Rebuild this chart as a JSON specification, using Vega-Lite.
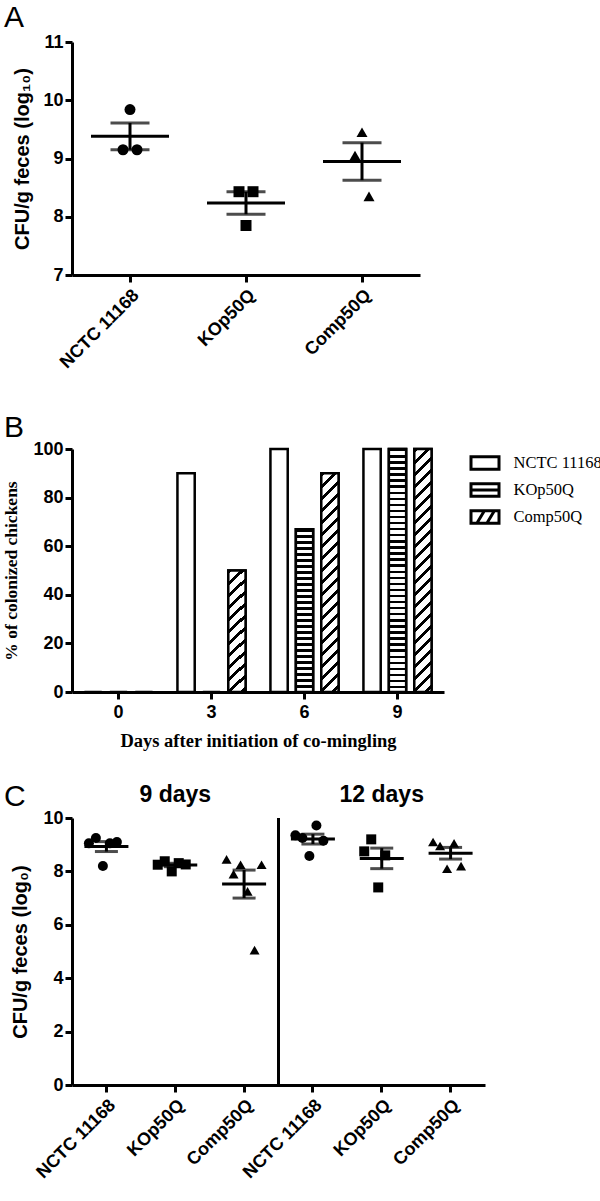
{
  "$schema": "https://vega.github.io/schema/vega-lite/v6.json",
  "background": "white",
  "padding": {"left": 2, "top": 3, "right": 5, "bottom": 5},
  "spacing": 40,
  "bounds": "flush",
  "resolve": {"scale": {"shape": "independent", "fill": "independent"}, "legend": {"shape": "independent", "fill": "independent"}},
  "config": {
    "view": {"stroke": null},
    "axis": {"domainColor": "black", "domainWidth": 3, "tickColor": "black", "tickWidth": 3, "tickSize": 7, "labelColor": "black", "labelFont": "Liberation Sans", "labelFontWeight": "bold", "labelFontSize": 18, "titleFont": "Liberation Sans", "titleFontWeight": "bold", "titleFontSize": 20, "titleColor": "black", "grid": false, "labelPadding": 2},
    "title": {"font": "Liberation Sans", "fontWeight": "normal", "fontSize": 30, "color": "black", "anchor": "start", "frame": "group", "baseline": "alphabetic"}
  },
  "vconcat": [
    {
      "width": 348, "height": 233,
      "title": {"text": "A", "dx": -68, "offset": 0},
      "data": {"values": [
        {"strain": "NCTC 11168", "bird": 1, "value": 9.15},
        {"strain": "NCTC 11168", "bird": 2, "value": 9.84},
        {"strain": "NCTC 11168", "bird": 3, "value": 9.15},
        {"strain": "KOp50Q", "bird": 1, "value": 8.43},
        {"strain": "KOp50Q", "bird": 2, "value": 7.85},
        {"strain": "KOp50Q", "bird": 3, "value": 8.43},
        {"strain": "Comp50Q", "bird": 1, "value": 9.05},
        {"strain": "Comp50Q", "bird": 2, "value": 9.45},
        {"strain": "Comp50Q", "bird": 3, "value": 8.35}
      ]},
      "encoding": {
        "x": {"field": "strain", "type": "nominal", "sort": ["NCTC 11168", "KOp50Q", "Comp50Q"], "scale": {"type": "band", "domain": ["NCTC 11168", "KOp50Q", "Comp50Q"], "paddingInner": 0, "paddingOuter": 0}, "axis": {"title": null, "labelAngle": -45, "labelAlign": "right", "labelBaseline": "top", "labelPadding": 4}}
      },
      "layer": [
        {"mark": {"type": "errorbar", "extent": "stderr", "ticks": true, "size": 39, "thickness": 3, "color": "black"},
         "encoding": {"y": {"field": "value", "type": "quantitative", "title": "CFU/g feces (log₁₀)", "scale": {"domain": [7, 11]}, "axis": {"values": [7, 8, 9, 10, 11], "format": "d", "titlePadding": 10}}}},
        {"mark": {"type": "tick", "size": 78, "thickness": 3, "color": "black", "opacity": 1},
         "encoding": {"y": {"aggregate": "mean", "field": "value", "type": "quantitative", "title": "CFU/g feces (log₁₀)"}}},
        {"mark": {"type": "point", "filled": true, "size": 121, "color": "black", "opacity": 1},
         "encoding": {
           "xOffset": {"field": "bird", "type": "quantitative", "scale": {"domain": [1, 3], "range": [51, 65]}},
           "y": {"field": "value", "type": "quantitative", "title": "CFU/g feces (log₁₀)"},
           "shape": {"field": "strain", "type": "nominal", "scale": {"domain": ["NCTC 11168", "KOp50Q", "Comp50Q"], "range": ["circle", "square", "triangle-up"]}, "legend": null}
         }}
      ]
    },
    {"width": 10, "height": 94, "data": {"values": []}, "mark": "point"},
    {
      "width": 372, "height": 243,
      "title": {"text": "B", "dx": -68, "offset": -3},
      "data": {"values": [
        {"day": 0, "strain": "NCTC 11168", "pct": 0},
        {"day": 0, "strain": "KOp50Q", "pct": 0},
        {"day": 0, "strain": "Comp50Q", "pct": 0},
        {"day": 3, "strain": "NCTC 11168", "pct": 90},
        {"day": 3, "strain": "KOp50Q", "pct": 0},
        {"day": 3, "strain": "Comp50Q", "pct": 50},
        {"day": 6, "strain": "NCTC 11168", "pct": 100},
        {"day": 6, "strain": "KOp50Q", "pct": 67},
        {"day": 6, "strain": "Comp50Q", "pct": 90},
        {"day": 9, "strain": "NCTC 11168", "pct": 100},
        {"day": 9, "strain": "KOp50Q", "pct": 100},
        {"day": 9, "strain": "Comp50Q", "pct": 100}
      ]},
      "encoding": {
        "x": {"field": "day", "type": "ordinal", "scale": {"paddingInner": 0.18, "paddingOuter": 0.09}, "axis": {"title": "Days after initiation of co-mingling", "titleFont": "Liberation Serif", "titleFontSize": 18.5, "labelAngle": 0, "labelPadding": 4, "titlePadding": 10}},
        "y": {"field": "pct", "type": "quantitative", "title": "% of colonized chickens", "scale": {"domain": [0, 100]}, "axis": {"values": [0, 20, 40, 60, 80, 100], "titleFont": "Liberation Serif", "titleFontSize": 17.5, "titlePadding": 12}}
      },
      "layer": [
        {"mark": {"type": "bar", "fill": "white", "stroke": "black", "strokeWidth": 2.5},
         "encoding": {"xOffset": {"field": "strain", "type": "nominal", "sort": ["NCTC 11168", "KOp50Q", "Comp50Q"], "scale": {"paddingInner": 0.32, "paddingOuter": 0.16}}}},
        {"transform": [{"filter": "datum.strain !== 'NCTC 11168' && datum.pct > 0"}],
         "mark": {"type": "bar", "stroke": "black", "strokeWidth": 2.5},
         "encoding": {
           "xOffset": {"field": "strain", "type": "nominal", "sort": ["NCTC 11168", "KOp50Q", "Comp50Q"]},
           "fill": {
           "condition": [
             {"test": "datum.strain === 'KOp50Q' && datum.pct >= 100", "value": {"gradient": "linear", "x1": 0, "y1": 0, "x2": 0, "y2": 1, "stops": [
               {"offset":0,"color":"#000"},{"offset":0.01,"color":"#000"},{"offset":0.01,"color":"#fff"},{"offset":0.025,"color":"#fff"},
               {"offset":0.025,"color":"#000"},{"offset":0.035,"color":"#000"},{"offset":0.035,"color":"#fff"},{"offset":0.05,"color":"#fff"},
               {"offset":0.05,"color":"#000"},{"offset":0.06,"color":"#000"},{"offset":0.06,"color":"#fff"},{"offset":0.075,"color":"#fff"},
               {"offset":0.075,"color":"#000"},{"offset":0.085,"color":"#000"},{"offset":0.085,"color":"#fff"},{"offset":0.1,"color":"#fff"},
               {"offset":0.1,"color":"#000"},{"offset":0.11,"color":"#000"},{"offset":0.11,"color":"#fff"},{"offset":0.125,"color":"#fff"},
               {"offset":0.125,"color":"#000"},{"offset":0.135,"color":"#000"},{"offset":0.135,"color":"#fff"},{"offset":0.15,"color":"#fff"},
               {"offset":0.15,"color":"#000"},{"offset":0.16,"color":"#000"},{"offset":0.16,"color":"#fff"},{"offset":0.175,"color":"#fff"},
               {"offset":0.175,"color":"#000"},{"offset":0.185,"color":"#000"},{"offset":0.185,"color":"#fff"},{"offset":0.2,"color":"#fff"},
               {"offset":0.2,"color":"#000"},{"offset":0.21,"color":"#000"},{"offset":0.21,"color":"#fff"},{"offset":0.225,"color":"#fff"},
               {"offset":0.225,"color":"#000"},{"offset":0.235,"color":"#000"},{"offset":0.235,"color":"#fff"},{"offset":0.25,"color":"#fff"},
               {"offset":0.25,"color":"#000"},{"offset":0.26,"color":"#000"},{"offset":0.26,"color":"#fff"},{"offset":0.275,"color":"#fff"},
               {"offset":0.275,"color":"#000"},{"offset":0.285,"color":"#000"},{"offset":0.285,"color":"#fff"},{"offset":0.3,"color":"#fff"},
               {"offset":0.3,"color":"#000"},{"offset":0.31,"color":"#000"},{"offset":0.31,"color":"#fff"},{"offset":0.325,"color":"#fff"},
               {"offset":0.325,"color":"#000"},{"offset":0.335,"color":"#000"},{"offset":0.335,"color":"#fff"},{"offset":0.35,"color":"#fff"},
               {"offset":0.35,"color":"#000"},{"offset":0.36,"color":"#000"},{"offset":0.36,"color":"#fff"},{"offset":0.375,"color":"#fff"},
               {"offset":0.375,"color":"#000"},{"offset":0.385,"color":"#000"},{"offset":0.385,"color":"#fff"},{"offset":0.4,"color":"#fff"},
               {"offset":0.4,"color":"#000"},{"offset":0.41,"color":"#000"},{"offset":0.41,"color":"#fff"},{"offset":0.425,"color":"#fff"},
               {"offset":0.425,"color":"#000"},{"offset":0.435,"color":"#000"},{"offset":0.435,"color":"#fff"},{"offset":0.45,"color":"#fff"},
               {"offset":0.45,"color":"#000"},{"offset":0.46,"color":"#000"},{"offset":0.46,"color":"#fff"},{"offset":0.475,"color":"#fff"},
               {"offset":0.475,"color":"#000"},{"offset":0.485,"color":"#000"},{"offset":0.485,"color":"#fff"},{"offset":0.5,"color":"#fff"},
               {"offset":0.5,"color":"#000"},{"offset":0.51,"color":"#000"},{"offset":0.51,"color":"#fff"},{"offset":0.525,"color":"#fff"},
               {"offset":0.525,"color":"#000"},{"offset":0.535,"color":"#000"},{"offset":0.535,"color":"#fff"},{"offset":0.55,"color":"#fff"},
               {"offset":0.55,"color":"#000"},{"offset":0.56,"color":"#000"},{"offset":0.56,"color":"#fff"},{"offset":0.575,"color":"#fff"},
               {"offset":0.575,"color":"#000"},{"offset":0.585,"color":"#000"},{"offset":0.585,"color":"#fff"},{"offset":0.6,"color":"#fff"},
               {"offset":0.6,"color":"#000"},{"offset":0.61,"color":"#000"},{"offset":0.61,"color":"#fff"},{"offset":0.625,"color":"#fff"},
               {"offset":0.625,"color":"#000"},{"offset":0.635,"color":"#000"},{"offset":0.635,"color":"#fff"},{"offset":0.65,"color":"#fff"},
               {"offset":0.65,"color":"#000"},{"offset":0.66,"color":"#000"},{"offset":0.66,"color":"#fff"},{"offset":0.675,"color":"#fff"},
               {"offset":0.675,"color":"#000"},{"offset":0.685,"color":"#000"},{"offset":0.685,"color":"#fff"},{"offset":0.7,"color":"#fff"},
               {"offset":0.7,"color":"#000"},{"offset":0.71,"color":"#000"},{"offset":0.71,"color":"#fff"},{"offset":0.725,"color":"#fff"},
               {"offset":0.725,"color":"#000"},{"offset":0.735,"color":"#000"},{"offset":0.735,"color":"#fff"},{"offset":0.75,"color":"#fff"},
               {"offset":0.75,"color":"#000"},{"offset":0.76,"color":"#000"},{"offset":0.76,"color":"#fff"},{"offset":0.775,"color":"#fff"},
               {"offset":0.775,"color":"#000"},{"offset":0.785,"color":"#000"},{"offset":0.785,"color":"#fff"},{"offset":0.8,"color":"#fff"},
               {"offset":0.8,"color":"#000"},{"offset":0.81,"color":"#000"},{"offset":0.81,"color":"#fff"},{"offset":0.825,"color":"#fff"},
               {"offset":0.825,"color":"#000"},{"offset":0.835,"color":"#000"},{"offset":0.835,"color":"#fff"},{"offset":0.85,"color":"#fff"},
               {"offset":0.85,"color":"#000"},{"offset":0.86,"color":"#000"},{"offset":0.86,"color":"#fff"},{"offset":0.875,"color":"#fff"},
               {"offset":0.875,"color":"#000"},{"offset":0.885,"color":"#000"},{"offset":0.885,"color":"#fff"},{"offset":0.9,"color":"#fff"},
               {"offset":0.9,"color":"#000"},{"offset":0.91,"color":"#000"},{"offset":0.91,"color":"#fff"},{"offset":0.925,"color":"#fff"},
               {"offset":0.925,"color":"#000"},{"offset":0.935,"color":"#000"},{"offset":0.935,"color":"#fff"},{"offset":0.95,"color":"#fff"},
               {"offset":0.95,"color":"#000"},{"offset":0.96,"color":"#000"},{"offset":0.96,"color":"#fff"},{"offset":0.975,"color":"#fff"},
               {"offset":0.975,"color":"#000"},{"offset":0.985,"color":"#000"},{"offset":0.985,"color":"#fff"},{"offset":1,"color":"#fff"}
             ]}},
             {"test": "datum.strain === 'KOp50Q'", "value": {"gradient": "linear", "x1": 0, "y1": 0, "x2": 0, "y2": 1.474, "stops": [
               {"offset":0,"color":"#000"},{"offset":0.01,"color":"#000"},{"offset":0.01,"color":"#fff"},{"offset":0.025,"color":"#fff"},
               {"offset":0.025,"color":"#000"},{"offset":0.035,"color":"#000"},{"offset":0.035,"color":"#fff"},{"offset":0.05,"color":"#fff"},
               {"offset":0.05,"color":"#000"},{"offset":0.06,"color":"#000"},{"offset":0.06,"color":"#fff"},{"offset":0.075,"color":"#fff"},
               {"offset":0.075,"color":"#000"},{"offset":0.085,"color":"#000"},{"offset":0.085,"color":"#fff"},{"offset":0.1,"color":"#fff"},
               {"offset":0.1,"color":"#000"},{"offset":0.11,"color":"#000"},{"offset":0.11,"color":"#fff"},{"offset":0.125,"color":"#fff"},
               {"offset":0.125,"color":"#000"},{"offset":0.135,"color":"#000"},{"offset":0.135,"color":"#fff"},{"offset":0.15,"color":"#fff"},
               {"offset":0.15,"color":"#000"},{"offset":0.16,"color":"#000"},{"offset":0.16,"color":"#fff"},{"offset":0.175,"color":"#fff"},
               {"offset":0.175,"color":"#000"},{"offset":0.185,"color":"#000"},{"offset":0.185,"color":"#fff"},{"offset":0.2,"color":"#fff"},
               {"offset":0.2,"color":"#000"},{"offset":0.21,"color":"#000"},{"offset":0.21,"color":"#fff"},{"offset":0.225,"color":"#fff"},
               {"offset":0.225,"color":"#000"},{"offset":0.235,"color":"#000"},{"offset":0.235,"color":"#fff"},{"offset":0.25,"color":"#fff"},
               {"offset":0.25,"color":"#000"},{"offset":0.26,"color":"#000"},{"offset":0.26,"color":"#fff"},{"offset":0.275,"color":"#fff"},
               {"offset":0.275,"color":"#000"},{"offset":0.285,"color":"#000"},{"offset":0.285,"color":"#fff"},{"offset":0.3,"color":"#fff"},
               {"offset":0.3,"color":"#000"},{"offset":0.31,"color":"#000"},{"offset":0.31,"color":"#fff"},{"offset":0.325,"color":"#fff"},
               {"offset":0.325,"color":"#000"},{"offset":0.335,"color":"#000"},{"offset":0.335,"color":"#fff"},{"offset":0.35,"color":"#fff"},
               {"offset":0.35,"color":"#000"},{"offset":0.36,"color":"#000"},{"offset":0.36,"color":"#fff"},{"offset":0.375,"color":"#fff"},
               {"offset":0.375,"color":"#000"},{"offset":0.385,"color":"#000"},{"offset":0.385,"color":"#fff"},{"offset":0.4,"color":"#fff"},
               {"offset":0.4,"color":"#000"},{"offset":0.41,"color":"#000"},{"offset":0.41,"color":"#fff"},{"offset":0.425,"color":"#fff"},
               {"offset":0.425,"color":"#000"},{"offset":0.435,"color":"#000"},{"offset":0.435,"color":"#fff"},{"offset":0.45,"color":"#fff"},
               {"offset":0.45,"color":"#000"},{"offset":0.46,"color":"#000"},{"offset":0.46,"color":"#fff"},{"offset":0.475,"color":"#fff"},
               {"offset":0.475,"color":"#000"},{"offset":0.485,"color":"#000"},{"offset":0.485,"color":"#fff"},{"offset":0.5,"color":"#fff"},
               {"offset":0.5,"color":"#000"},{"offset":0.51,"color":"#000"},{"offset":0.51,"color":"#fff"},{"offset":0.525,"color":"#fff"},
               {"offset":0.525,"color":"#000"},{"offset":0.535,"color":"#000"},{"offset":0.535,"color":"#fff"},{"offset":0.55,"color":"#fff"},
               {"offset":0.55,"color":"#000"},{"offset":0.56,"color":"#000"},{"offset":0.56,"color":"#fff"},{"offset":0.575,"color":"#fff"},
               {"offset":0.575,"color":"#000"},{"offset":0.585,"color":"#000"},{"offset":0.585,"color":"#fff"},{"offset":0.6,"color":"#fff"},
               {"offset":0.6,"color":"#000"},{"offset":0.61,"color":"#000"},{"offset":0.61,"color":"#fff"},{"offset":0.625,"color":"#fff"},
               {"offset":0.625,"color":"#000"},{"offset":0.635,"color":"#000"},{"offset":0.635,"color":"#fff"},{"offset":0.65,"color":"#fff"},
               {"offset":0.65,"color":"#000"},{"offset":0.66,"color":"#000"},{"offset":0.66,"color":"#fff"},{"offset":0.675,"color":"#fff"},
               {"offset":0.675,"color":"#000"},{"offset":0.685,"color":"#000"},{"offset":0.685,"color":"#fff"},{"offset":0.7,"color":"#fff"}
             ]}},
             {"test": "datum.pct >= 100", "value": {"gradient": "linear", "x1": 0, "y1": 0, "x2": 0.0764, "y2": 1.092, "stops": [
               {"offset":0,"color":"#000"},{"offset":0.015,"color":"#000"},{"offset":0.015,"color":"#fff"},{"offset":0.045,"color":"#fff"},
               {"offset":0.045,"color":"#000"},{"offset":0.06,"color":"#000"},{"offset":0.06,"color":"#fff"},{"offset":0.09,"color":"#fff"},
               {"offset":0.09,"color":"#000"},{"offset":0.105,"color":"#000"},{"offset":0.105,"color":"#fff"},{"offset":0.135,"color":"#fff"},
               {"offset":0.135,"color":"#000"},{"offset":0.15,"color":"#000"},{"offset":0.15,"color":"#fff"},{"offset":0.18,"color":"#fff"},
               {"offset":0.18,"color":"#000"},{"offset":0.195,"color":"#000"},{"offset":0.195,"color":"#fff"},{"offset":0.225,"color":"#fff"},
               {"offset":0.225,"color":"#000"},{"offset":0.24,"color":"#000"},{"offset":0.24,"color":"#fff"},{"offset":0.27,"color":"#fff"},
               {"offset":0.27,"color":"#000"},{"offset":0.285,"color":"#000"},{"offset":0.285,"color":"#fff"},{"offset":0.315,"color":"#fff"},
               {"offset":0.315,"color":"#000"},{"offset":0.33,"color":"#000"},{"offset":0.33,"color":"#fff"},{"offset":0.36,"color":"#fff"},
               {"offset":0.36,"color":"#000"},{"offset":0.375,"color":"#000"},{"offset":0.375,"color":"#fff"},{"offset":0.405,"color":"#fff"},
               {"offset":0.405,"color":"#000"},{"offset":0.42,"color":"#000"},{"offset":0.42,"color":"#fff"},{"offset":0.45,"color":"#fff"},
               {"offset":0.45,"color":"#000"},{"offset":0.465,"color":"#000"},{"offset":0.465,"color":"#fff"},{"offset":0.495,"color":"#fff"},
               {"offset":0.495,"color":"#000"},{"offset":0.51,"color":"#000"},{"offset":0.51,"color":"#fff"},{"offset":0.54,"color":"#fff"},
               {"offset":0.54,"color":"#000"},{"offset":0.555,"color":"#000"},{"offset":0.555,"color":"#fff"},{"offset":0.585,"color":"#fff"},
               {"offset":0.585,"color":"#000"},{"offset":0.6,"color":"#000"},{"offset":0.6,"color":"#fff"},{"offset":0.63,"color":"#fff"},
               {"offset":0.63,"color":"#000"},{"offset":0.645,"color":"#000"},{"offset":0.645,"color":"#fff"},{"offset":0.675,"color":"#fff"},
               {"offset":0.675,"color":"#000"},{"offset":0.69,"color":"#000"},{"offset":0.69,"color":"#fff"},{"offset":0.72,"color":"#fff"},
               {"offset":0.72,"color":"#000"},{"offset":0.735,"color":"#000"},{"offset":0.735,"color":"#fff"},{"offset":0.765,"color":"#fff"},
               {"offset":0.765,"color":"#000"},{"offset":0.78,"color":"#000"},{"offset":0.78,"color":"#fff"},{"offset":0.81,"color":"#fff"},
               {"offset":0.81,"color":"#000"},{"offset":0.825,"color":"#000"},{"offset":0.825,"color":"#fff"},{"offset":0.855,"color":"#fff"},
               {"offset":0.855,"color":"#000"},{"offset":0.87,"color":"#000"},{"offset":0.87,"color":"#fff"},{"offset":0.9,"color":"#fff"},
               {"offset":0.9,"color":"#000"},{"offset":0.915,"color":"#000"},{"offset":0.915,"color":"#fff"},{"offset":0.945,"color":"#fff"},
               {"offset":0.945,"color":"#000"},{"offset":0.96,"color":"#000"},{"offset":0.96,"color":"#fff"},{"offset":0.99,"color":"#fff"}
             ]}},
             {"test": "datum.pct >= 80", "value": {"gradient": "linear", "x1": 0, "y1": 0, "x2": 0.0942, "y2": 1.212, "stops": [
               {"offset":0,"color":"#000"},{"offset":0.015,"color":"#000"},{"offset":0.015,"color":"#fff"},{"offset":0.045,"color":"#fff"},
               {"offset":0.045,"color":"#000"},{"offset":0.06,"color":"#000"},{"offset":0.06,"color":"#fff"},{"offset":0.09,"color":"#fff"},
               {"offset":0.09,"color":"#000"},{"offset":0.105,"color":"#000"},{"offset":0.105,"color":"#fff"},{"offset":0.135,"color":"#fff"},
               {"offset":0.135,"color":"#000"},{"offset":0.15,"color":"#000"},{"offset":0.15,"color":"#fff"},{"offset":0.18,"color":"#fff"},
               {"offset":0.18,"color":"#000"},{"offset":0.195,"color":"#000"},{"offset":0.195,"color":"#fff"},{"offset":0.225,"color":"#fff"},
               {"offset":0.225,"color":"#000"},{"offset":0.24,"color":"#000"},{"offset":0.24,"color":"#fff"},{"offset":0.27,"color":"#fff"},
               {"offset":0.27,"color":"#000"},{"offset":0.285,"color":"#000"},{"offset":0.285,"color":"#fff"},{"offset":0.315,"color":"#fff"},
               {"offset":0.315,"color":"#000"},{"offset":0.33,"color":"#000"},{"offset":0.33,"color":"#fff"},{"offset":0.36,"color":"#fff"},
               {"offset":0.36,"color":"#000"},{"offset":0.375,"color":"#000"},{"offset":0.375,"color":"#fff"},{"offset":0.405,"color":"#fff"},
               {"offset":0.405,"color":"#000"},{"offset":0.42,"color":"#000"},{"offset":0.42,"color":"#fff"},{"offset":0.45,"color":"#fff"},
               {"offset":0.45,"color":"#000"},{"offset":0.465,"color":"#000"},{"offset":0.465,"color":"#fff"},{"offset":0.495,"color":"#fff"},
               {"offset":0.495,"color":"#000"},{"offset":0.51,"color":"#000"},{"offset":0.51,"color":"#fff"},{"offset":0.54,"color":"#fff"},
               {"offset":0.54,"color":"#000"},{"offset":0.555,"color":"#000"},{"offset":0.555,"color":"#fff"},{"offset":0.585,"color":"#fff"},
               {"offset":0.585,"color":"#000"},{"offset":0.6,"color":"#000"},{"offset":0.6,"color":"#fff"},{"offset":0.63,"color":"#fff"},
               {"offset":0.63,"color":"#000"},{"offset":0.645,"color":"#000"},{"offset":0.645,"color":"#fff"},{"offset":0.675,"color":"#fff"},
               {"offset":0.675,"color":"#000"},{"offset":0.69,"color":"#000"},{"offset":0.69,"color":"#fff"},{"offset":0.72,"color":"#fff"},
               {"offset":0.72,"color":"#000"},{"offset":0.735,"color":"#000"},{"offset":0.735,"color":"#fff"},{"offset":0.765,"color":"#fff"},
               {"offset":0.765,"color":"#000"},{"offset":0.78,"color":"#000"},{"offset":0.78,"color":"#fff"},{"offset":0.81,"color":"#fff"},
               {"offset":0.81,"color":"#000"},{"offset":0.825,"color":"#000"},{"offset":0.825,"color":"#fff"},{"offset":0.855,"color":"#fff"},
               {"offset":0.855,"color":"#000"},{"offset":0.87,"color":"#000"},{"offset":0.87,"color":"#fff"},{"offset":0.9,"color":"#fff"}
             ]}}
           ],
           "value": {"gradient": "linear", "x1": 0, "y1": 0, "x2": 0.301, "y2": 2.153, "stops": [
               {"offset":0,"color":"#000"},{"offset":0.015,"color":"#000"},{"offset":0.015,"color":"#fff"},{"offset":0.045,"color":"#fff"},
               {"offset":0.045,"color":"#000"},{"offset":0.06,"color":"#000"},{"offset":0.06,"color":"#fff"},{"offset":0.09,"color":"#fff"},
               {"offset":0.09,"color":"#000"},{"offset":0.105,"color":"#000"},{"offset":0.105,"color":"#fff"},{"offset":0.135,"color":"#fff"},
               {"offset":0.135,"color":"#000"},{"offset":0.15,"color":"#000"},{"offset":0.15,"color":"#fff"},{"offset":0.18,"color":"#fff"},
               {"offset":0.18,"color":"#000"},{"offset":0.195,"color":"#000"},{"offset":0.195,"color":"#fff"},{"offset":0.225,"color":"#fff"},
               {"offset":0.225,"color":"#000"},{"offset":0.24,"color":"#000"},{"offset":0.24,"color":"#fff"},{"offset":0.27,"color":"#fff"},
               {"offset":0.27,"color":"#000"},{"offset":0.285,"color":"#000"},{"offset":0.285,"color":"#fff"},{"offset":0.315,"color":"#fff"},
               {"offset":0.315,"color":"#000"},{"offset":0.33,"color":"#000"},{"offset":0.33,"color":"#fff"},{"offset":0.36,"color":"#fff"},
               {"offset":0.36,"color":"#000"},{"offset":0.375,"color":"#000"},{"offset":0.375,"color":"#fff"},{"offset":0.405,"color":"#fff"},
               {"offset":0.405,"color":"#000"},{"offset":0.42,"color":"#000"},{"offset":0.42,"color":"#fff"},{"offset":0.45,"color":"#fff"},
               {"offset":0.45,"color":"#000"},{"offset":0.465,"color":"#000"},{"offset":0.465,"color":"#fff"},{"offset":0.495,"color":"#fff"},
               {"offset":0.495,"color":"#000"},{"offset":0.51,"color":"#000"},{"offset":0.51,"color":"#fff"},{"offset":0.54,"color":"#fff"}
           ]}
         }}},
        {"transform": [{"filter": "datum.pct < 0"}],
         "mark": {"type": "point", "filled": false, "color": "black", "opacity": 1, "strokeWidth": 3},
         "encoding": {"shape": {"field": "strain", "type": "nominal",
           "scale": {"domain": ["NCTC 11168", "KOp50Q", "Comp50Q"], "range": ["M-1.12,-0.5H1.12V0.5H-1.12Z", "M-1.12,-0.5H1.12V0.5H-1.12Z M-1.12,0H1.12", "M-1.12,-0.5H1.12V0.5H-1.12Z M-0.65,0.5L-0.05,-0.5 M0.15,0.5L0.75,-0.5"]},
           "legend": {"title": null, "orient": "right", "offset": 26.5, "symbolSize": 625, "symbolStrokeWidth": 3, "symbolStrokeColor": "black", "symbolOpacity": 1, "labelFont": "Liberation Serif", "labelFontSize": 16.5, "labelFontWeight": "normal", "labelColor": "black", "labelOffset": 14.5, "rowPadding": 0}}}}
      ]
    },
    {"width": 10, "height": 46, "data": {"values": []}, "mark": "point"},
    {
      "width": 413, "height": 267,
      "title": {"text": "C", "dx": -68, "offset": -28},
      "data": {"values": [
        {"g": "9|NCTC 11168", "strain": "NCTC 11168", "bird": 1, "value": 9.05},
        {"g": "9|NCTC 11168", "strain": "NCTC 11168", "bird": 2, "value": 9.25},
        {"g": "9|NCTC 11168", "strain": "NCTC 11168", "bird": 3, "value": 8.2},
        {"g": "9|NCTC 11168", "strain": "NCTC 11168", "bird": 4, "value": 9.05},
        {"g": "9|NCTC 11168", "strain": "NCTC 11168", "bird": 5, "value": 9.1},
        {"g": "9|KOp50Q", "strain": "KOp50Q", "bird": 1, "value": 8.25},
        {"g": "9|KOp50Q", "strain": "KOp50Q", "bird": 2, "value": 8.38},
        {"g": "9|KOp50Q", "strain": "KOp50Q", "bird": 3, "value": 8.0},
        {"g": "9|KOp50Q", "strain": "KOp50Q", "bird": 4, "value": 8.31},
        {"g": "9|KOp50Q", "strain": "KOp50Q", "bird": 5, "value": 8.26},
        {"g": "9|Comp50Q", "strain": "Comp50Q", "bird": 1, "value": 8.45},
        {"g": "9|Comp50Q", "strain": "Comp50Q", "bird": 2, "value": 7.9},
        {"g": "9|Comp50Q", "strain": "Comp50Q", "bird": 3, "value": 8.25},
        {"g": "9|Comp50Q", "strain": "Comp50Q", "bird": 4, "value": 7.25},
        {"g": "9|Comp50Q", "strain": "Comp50Q", "bird": 5, "value": 5.05},
        {"g": "9|Comp50Q", "strain": "Comp50Q", "bird": 6, "value": 8.25},
        {"g": "12|NCTC 11168", "strain": "NCTC 11168", "bird": 1, "value": 9.35},
        {"g": "12|NCTC 11168", "strain": "NCTC 11168", "bird": 2, "value": 9.25},
        {"g": "12|NCTC 11168", "strain": "NCTC 11168", "bird": 3, "value": 8.58},
        {"g": "12|NCTC 11168", "strain": "NCTC 11168", "bird": 4, "value": 9.72},
        {"g": "12|NCTC 11168", "strain": "NCTC 11168", "bird": 5, "value": 9.15},
        {"g": "12|KOp50Q", "strain": "KOp50Q", "bird": 1, "value": 8.75},
        {"g": "12|KOp50Q", "strain": "KOp50Q", "bird": 2, "value": 9.2},
        {"g": "12|KOp50Q", "strain": "KOp50Q", "bird": 3, "value": 7.4},
        {"g": "12|KOp50Q", "strain": "KOp50Q", "bird": 4, "value": 8.6},
        {"g": "12|Comp50Q", "strain": "Comp50Q", "bird": 1, "value": 9.1},
        {"g": "12|Comp50Q", "strain": "Comp50Q", "bird": 2, "value": 8.95},
        {"g": "12|Comp50Q", "strain": "Comp50Q", "bird": 3, "value": 8.1},
        {"g": "12|Comp50Q", "strain": "Comp50Q", "bird": 4, "value": 9.05},
        {"g": "12|Comp50Q", "strain": "Comp50Q", "bird": 5, "value": 8.2}
      ]},
      "encoding": {
        "x": {"field": "g", "type": "nominal", "title": null, "scale": {"type": "band", "domain": ["9|NCTC 11168", "9|KOp50Q", "9|Comp50Q", "12|NCTC 11168", "12|KOp50Q", "12|Comp50Q"], "paddingInner": 0, "paddingOuter": 0}, "axis": {"title": null, "labelAngle": -45, "labelAlign": "right", "labelBaseline": "top", "labelPadding": 4, "labelExpr": "split(datum.label, '|')[1]"}}
      },
      "layer": [
        {"mark": {"type": "errorbar", "extent": "stderr", "ticks": true, "size": 23, "thickness": 3, "color": "black"},
         "encoding": {"y": {"field": "value", "type": "quantitative", "title": "CFU/g feces (log₀)", "scale": {"domain": [0, 10]}, "axis": {"values": [0, 2, 4, 6, 8, 10], "format": "d", "titlePadding": 12}}}},
        {"mark": {"type": "tick", "size": 44, "thickness": 3, "color": "black", "opacity": 1},
         "encoding": {"y": {"aggregate": "mean", "field": "value", "type": "quantitative", "title": "CFU/g feces (log₀)"}}},
        {"mark": {"type": "point", "filled": true, "size": 100, "color": "black", "opacity": 1},
         "encoding": {
           "xOffset": {"field": "bird", "type": "quantitative", "scale": {"domain": [1, 6], "range": [16.9, 51.9]}},
           "y": {"field": "value", "type": "quantitative", "title": "CFU/g feces (log₀)"},
           "shape": {"field": "strain", "type": "nominal", "scale": {"domain": ["NCTC 11168", "KOp50Q", "Comp50Q"], "range": ["circle", "square", "triangle-up"]}, "legend": null}
         }},
        {"data": {"values": [{"g": "12|NCTC 11168"}]},
         "mark": {"type": "rule", "strokeWidth": 3, "color": "black"},
         "encoding": {"x": {"field": "g", "type": "nominal", "bandPosition": 0, "title": null}, "y": {"datum": 10}, "y2": {"datum": 0}}},
        {"data": {"values": [{"g": "9|KOp50Q", "label": "9 days"}, {"g": "12|KOp50Q", "label": "12 days"}]},
         "mark": {"type": "text", "font": "Liberation Sans", "fontSize": 23, "fontWeight": "bold", "color": "black", "baseline": "alphabetic"},
         "encoding": {"text": {"field": "label"}, "y": {"datum": 10.6}}}
      ]
    }
  ]
}
